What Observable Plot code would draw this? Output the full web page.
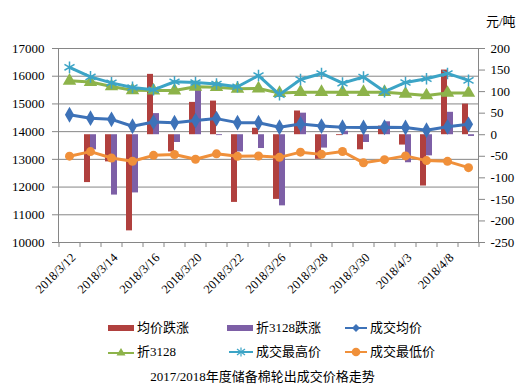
<!DOCTYPE html>
<html><head><meta charset="utf-8">
<script src="https://cdn.jsdelivr.net/npm/d3@7"></script>
<script src="https://cdn.jsdelivr.net/npm/@observablehq/plot@0.6"></script>
<style>
body{margin:0;background:#fff;}
#wrap{position:relative;width:525px;height:392px;font-family:"Liberation Serif","Noto Sans CJK SC",serif;color:#000;}
#chart{position:absolute;left:0;top:0;}
.lg{position:absolute;font-size:13px;line-height:16px;display:flex;align-items:center;white-space:nowrap;}
.lg svg{margin-right:3px;}
#caption{position:absolute;left:0;width:525px;top:369px;text-align:center;font-size:13px;line-height:16px;}
</style></head><body>
<div id="wrap"><div id="chart"></div><div id="legend"></div><div id="caption"></div></div>
<script>
const dates = ["2018/3/12","2018/3/13","2018/3/14","2018/3/15","2018/3/16","2018/3/19","2018/3/20","2018/3/21","2018/3/22","2018/3/23","2018/3/26","2018/3/27","2018/3/28","2018/3/29","2018/3/30","2018/4/2","2018/4/3","2018/4/4","2018/4/8","2018/4/9"];
const avgPrice = [14610,14485,14445,14195,14345,14320,14400,14470,14325,14320,14160,14277,14200,14160,14150,14160,14150,14050,14175,14265];
const zhe3128 = [15835,15790,15630,15490,15485,15485,15620,15605,15545,15555,15390,15425,15425,15425,15425,15425,15365,15305,15395,15395];
const maxPrice = [16320,15975,15760,15595,15510,15800,15770,15720,15620,16025,15335,15880,16100,15750,15970,15445,15775,15910,16100,15850];
const minPrice = [13115,13280,13050,12930,13145,13175,13005,13200,13110,13120,13072,13260,13180,13285,12875,12990,13125,12955,12928,12700];
const avgChange = [null,-111,-63,-223,140,-40,75,78,-157,15,-150,55,-57,-2,-35,20,-24,-119,150,71];
const zheChange = [null,-35,-140,-135,49,-18,112,-2,-40,-32,-165,50,-31,8,-18,30,-65,-49,52,-4];
const leftTicks = [10000,11000,12000,13000,14000,15000,16000,17000];
const rightTicks = [-250,-200,-150,-100,-50,0,50,100,150,200];
const labelDates = dates.filter((d,i)=>i%2===0);
const seriesNames = ["均价跌涨","折3128跌涨","成交均价","折3128","成交最高价","成交最低价"];
const unitLabel = "元/吨";
const captionText = "2017/2018年度储备棉轮出成交价格走势";

const colors = {red:"#B0403E", purple:"#7D5FA6", blue:"#3D72B8", green:"#8DB34A", aqua:"#3CA4C6", orange:"#F0903A"};

// right axis [-250,200] mapped onto left axis [10000,17000]
const toLeft = v => 10000 + (v + 250) * 7000 / 450;
const fromLeft = y => Math.round((y - 10000) * 450 / 7000 - 250);

const rows = dates.map((d,i)=>({date:d, avg:avgPrice[i], z:zhe3128[i], hi:maxPrice[i], lo:minPrice[i], dA:avgChange[i], dZ:zheChange[i]}));
const barRows = rows.filter(r => r.dA != null);
const zero = toLeft(0);
const tickLen = 5 * 7000 / 194;

const chart = Plot.plot({
  width:525, height:315, marginLeft:58, marginRight:47, marginTop:48, marginBottom:73,
  style:{fontFamily:"Liberation Serif, 'Noto Sans CJK SC', serif", fontSize:"13px", color:"#000", background:"transparent"},
  x:{type:"band", domain:dates, paddingInner:0.43, paddingOuter:0.215, axis:null},
  y:{domain:[10000,17000], axis:null},
  marks:[
    Plot.gridY(leftTicks, {stroke:"#868686", strokeOpacity:1}),
    Plot.frame({stroke:"#868686"}),
    Plot.axisY(leftTicks, {anchor:"left", label:null, tickSize:6, tickPadding:8, tickFormat:d=>String(d), stroke:"#868686", fill:"#000", fontSize:13}),
    Plot.axisY(rightTicks.map(toLeft), {anchor:"right", label:null, tickSize:6, tickPadding:6, tickFormat:fromLeft, stroke:"#868686", fill:"#000", fontSize:13}),
    Plot.ruleX(dates, {x:d=>d, y1:10000, y2:10000 - tickLen, dx:-10.5, stroke:"#868686"}),
    Plot.ruleX(dates.slice(-1), {x:d=>d, y1:10000, y2:10000 - tickLen, dx:10.5, stroke:"#868686"}),
    Plot.axisX(labelDates, {anchor:"bottom", label:null, tickRotate:-45, tickSize:0, tickPadding:13, dx:4, fill:"#000", fontSize:12.5}),
    Plot.barY(barRows, {x:"date", y1:zero, y2:r=>toLeft(r.dA), fill:colors.red, insetRight:6}),
    Plot.barY(barRows, {x:"date", y1:zero, y2:r=>toLeft(r.dZ), fill:colors.purple, insetLeft:6}),
    Plot.line(rows, {x:"date", y:"avg", stroke:colors.blue, strokeWidth:3}),
    Plot.dot(rows, {x:"date", y:"avg", symbol:"diamond", r:4.8, fill:colors.blue, stroke:null}),
    Plot.line(rows, {x:"date", y:"z", stroke:colors.green, strokeWidth:3}),
    Plot.dot(rows, {x:"date", y:"z", symbol:"triangle", r:5, fill:colors.green, stroke:null}),
    Plot.line(rows, {x:"date", y:"hi", stroke:colors.aqua, strokeWidth:3}),
    Plot.dot(rows, {x:"date", y:"hi", symbol:"asterisk", r:5.5, stroke:colors.aqua, strokeWidth:1.5, fill:"none"}),
    Plot.line(rows, {x:"date", y:"lo", stroke:colors.orange, strokeWidth:3}),
    Plot.dot(rows, {x:"date", y:"lo", r:4.5, fill:colors.orange, stroke:null}),
    Plot.text([unitLabel], {frameAnchor:"top-right", dx:37, dy:-32, textAnchor:"end", fontSize:13, fill:"#000"})
  ]
});
document.getElementById("chart").appendChild(chart);

// legend
const sw = {
  bar: c => `<svg width="26" height="10"><rect x="0" y="2" width="26" height="6" fill="${c}"/></svg>`,
  diamond: c => `<svg width="22" height="10"><line x1="0" y1="5" x2="22" y2="5" stroke="${c}" stroke-width="2"/><path d="M11,1L15,5L11,9L7,5Z" fill="${c}"/></svg>`,
  triangle: c => `<svg width="26" height="10"><line x1="0" y1="6" x2="26" y2="6" stroke="${c}" stroke-width="2"/><path d="M13,1L17.5,8.5L8.5,8.5Z" fill="${c}"/></svg>`,
  star: c => `<svg width="24" height="10"><line x1="0" y1="5" x2="24" y2="5" stroke="${c}" stroke-width="2"/><g stroke="${c}" stroke-width="1.2"><line x1="12" y1="0.5" x2="12" y2="9.5"/><line x1="8" y1="2" x2="16" y2="8"/><line x1="8" y1="8" x2="16" y2="2"/></g></svg>`,
  circle: c => `<svg width="22" height="10"><line x1="0" y1="5" x2="22" y2="5" stroke="${c}" stroke-width="2"/><circle cx="11" cy="5" r="4.3" fill="${c}"/></svg>`
};
const items = [
  [sw.bar(colors.red), seriesNames[0], 108, 320],
  [sw.bar(colors.purple), seriesNames[1], 227, 320],
  [sw.diamond(colors.blue), seriesNames[2], 345, 320],
  [sw.triangle(colors.green), seriesNames[3], 108, 344],
  [sw.star(colors.aqua), seriesNames[4], 229, 344],
  [sw.circle(colors.orange), seriesNames[5], 345, 344]
];
const lg = document.getElementById("legend");
for (const [s, t, x, y] of items) {
  const div = document.createElement("div");
  div.className = "lg";
  div.style.left = x + "px"; div.style.top = y + "px";
  div.innerHTML = s + "<span>" + t + "</span>";
  lg.appendChild(div);
}
document.getElementById("caption").textContent = captionText;
</script>
</body></html>
